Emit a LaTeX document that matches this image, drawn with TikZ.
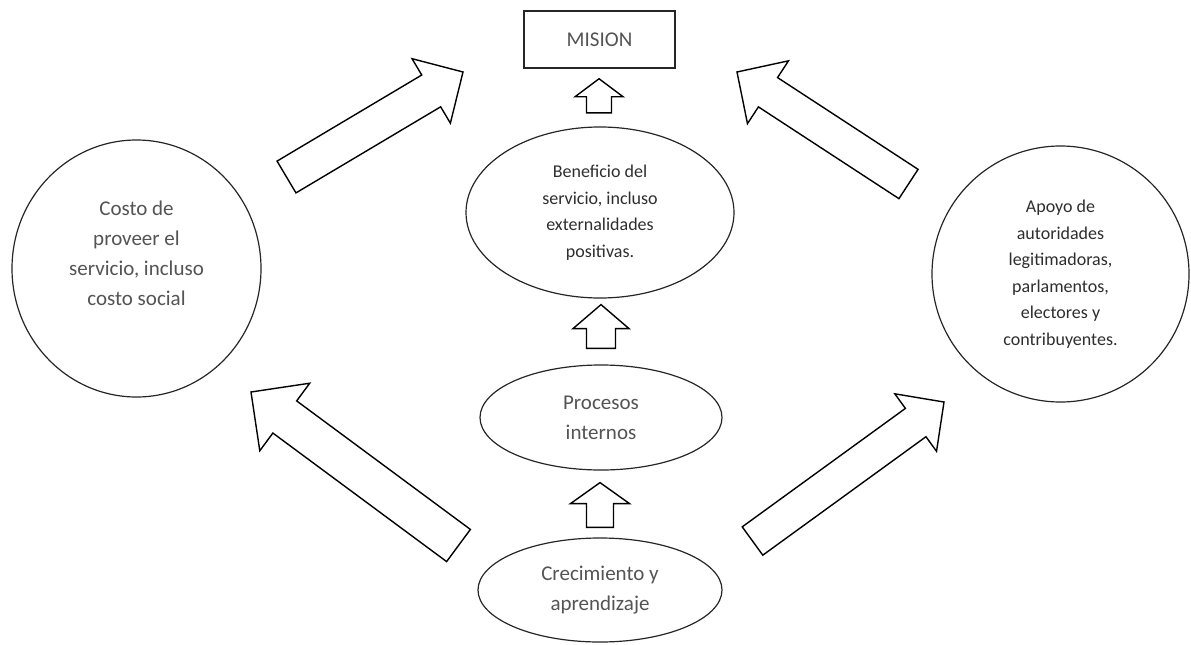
\documentclass[tikz,border=0pt]{standalone}
\usepackage{fontspec}
\setmainfont{Carlito}
\usetikzlibrary{calc,shapes.geometric}

\definecolor{inkgray}{gray}{0.33}
\definecolor{inkdark}{gray}{0.18}

\tikzset{
  shapeline/.style={draw=black!85, line width=1.2pt, inner sep=0pt, align=center},
  bigtext/.style={font=\fontsize{21}{30}\selectfont, text=inkgray},
  smalltext/.style={font=\fontsize{18}{26.5}\selectfont, text=inkdark},
  oval/.style={shapeline, ellipse},
  blockarrow/.style={draw=black, line width=1.4pt, line join=miter, fill=white},
}

% hollow block arrow: #1 tail, #2 tip, #3 half shaft width, #4 half head width, #5 head length
\newcommand\fatarrow[5]{%
  \path ($(#2)!#5!(#1)$) coordinate (#1-base);
  \draw[blockarrow]
    ($(#1)!#3!90:(#2)$) -- ($(#1-base)!#3!90:(#2)$) -- ($(#1-base)!#4!90:(#2)$)
    -- (#2)
    -- ($(#1-base)!#4!-90:(#2)$) -- ($(#1-base)!#3!-90:(#2)$) -- ($(#1)!#3!-90:(#2)$)
    -- cycle;
}

\begin{document}
\begin{tikzpicture}[x=1pt, y=-1pt]
  \useasboundingbox[fill=white] (0,0) rectangle (1191,645);

  % goal box
  \node[shapeline, rectangle, line width=1.5pt, minimum width=151pt, minimum height=57pt,
        bigtext] (mision) at (599.5,39.5) {MISION};

  % central chain
  \node[oval, minimum width=268pt, minimum height=171pt, smalltext] (ben) at (600,212.5)
    {Beneficio del\\servicio, incluso\\externalidades\\positivas.};
  \node[oval, minimum width=242pt, minimum height=105pt, bigtext] (proc) at (601,417.5)
    {Procesos\\internos};
  \node[oval, minimum width=244pt, minimum height=104pt, bigtext] (crec) at (600,590)
    {Crecimiento y\\aprendizaje};

  % side perspectives
  \node[oval, minimum width=249pt, minimum height=257pt,
        label={[bigtext, align=center, yshift=15pt]center:Costo de\\proveer el\\servicio, incluso\\costo social}]
        (costo) at (136.5,268.5) {};
  \node[oval, minimum width=257pt, minimum height=256pt, smalltext] (apoyo) at (1060.5,274)
    {Apoyo de\\autoridades\\legitimadoras,\\parlamentos,\\electores y\\contribuyentes.};

  % small arrows up the central chain
  \coordinate (a1-tail) at ($(ben.north)+(-1,-13.5)$);
  \coordinate (a1-tip)  at ($(mision.south)+(-0.5,10)$);
  \fatarrow{a1-tail}{a1-tip}{12.5pt}{24pt}{18pt}

  \coordinate (a2-tail) at ($(proc.north)+(0,-16)$);
  \coordinate (a2-tip)  at ($(ben.south)+(1,6)$);
  \fatarrow{a2-tail}{a2-tip}{14.5pt}{28pt}{24pt}

  \coordinate (a3-tail) at ($(crec.north)+(0,-10)$);
  \coordinate (a3-tip)  at ($(proc.south)+(-1,12)$);
  \fatarrow{a3-tail}{a3-tip}{13.5pt}{29.5pt}{21pt}

  % large diagonal arrows
  \coordinate (ul-tail) at (286.5,177);
  \coordinate (ul-tip)  at (463,72);
  \fatarrow{ul-tail}{ul-tip}{18.5pt}{37.5pt}{37pt}

  \coordinate (ur-tail) at (908.5,184);
  \coordinate (ur-tip)  at (737,72);
  \fatarrow{ur-tail}{ur-tip}{17.5pt}{37.5pt}{37pt}

  \coordinate (ll-tail) at (458.5,545.5);
  \coordinate (ll-tip)  at (251,392);
  \fatarrow{ll-tail}{ll-tip}{20pt}{42pt}{42pt}

  \coordinate (lr-tail) at (752.5,541);
  \coordinate (lr-tip)  at (944,402);
  \fatarrow{lr-tail}{lr-tip}{17.5pt}{35.5pt}{35pt}
\end{tikzpicture}
\end{document}
